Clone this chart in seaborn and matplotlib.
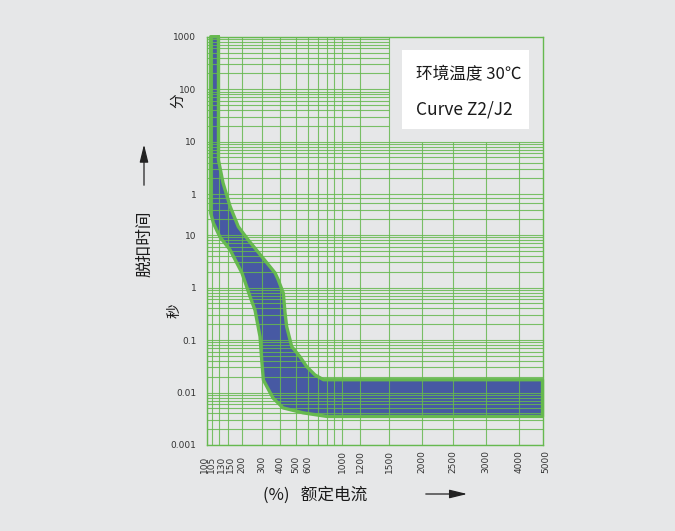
import numpy as np
import pandas as pd
import matplotlib
matplotlib.use("Agg")
import matplotlib.pyplot as plt
import matplotlib.transforms as mtransforms
from matplotlib.patches import Rectangle
from matplotlib.ticker import NullLocator
import seaborn as sns

# x axis: rated current (%), drawn on the paper's own uneven scale
x_ticks = [100, 105, 130, 150, 200, 300, 400, 500, 600, 1000, 1200, 1500,
           2000, 2500, 3000, 4000, 5000]
x_grid = [100, 105, 130, 150, 200, 300, 400, 500, 600, 700, 800, 900,
          1000, 1200, 1500]
x_grid_low = [2000, 2500, 3000, 4000]          # only drawn below 10 min
x_knots = x_grid + x_grid_low + [5000]
x_knot_frac = [0.0, 0.0149, 0.0375, 0.0643, 0.1042, 0.1638, 0.2183, 0.2659,
               0.3008, 0.3323, 0.3574, 0.3800, 0.4029, 0.4565, 0.5429,
               0.6412, 0.7335, 0.8318, 0.9300, 1.0]

# y axis: one log scale in seconds, labelled in seconds below and minutes above
sec_ticks = [0.001, 0.01, 0.1, 1, 10]
min_ticks = [1, 10, 100, 1000]

# tripping band (current %, time s)
upper_I = [127, 127, 138, 156, 186, 229, 300, 370, 389, 419, 429, 439, 471,
           532, 591, 667, 760, 5000]
upper_t = [60000, 268, 98, 35, 14.4, 8.0, 3.9, 1.9, 1.4, 0.78, 0.33, 0.18,
           0.075, 0.048, 0.031, 0.0216, 0.0175, 0.0175]
lower_I = [104, 104, 110, 131, 156, 201, 237, 262, 290, 300, 308, 358, 417,
           558, 804, 5000]
lower_t = [60000, 26, 17, 9.3, 5.2, 1.9, 0.67, 0.37, 0.116, 0.042, 0.0173,
           0.0079, 0.0051, 0.0041, 0.0035, 0.0035]

bg = "#e6e7e8"
green = "#66b94f"
blue = "#4759a3"
cjk = ["Noto Sans CJK SC", "DejaVu Sans"]

sns.set_theme(style="white", rc={"axes.facecolor": bg, "figure.facecolor": bg})
plt.rcParams["font.family"] = ["DejaVu Sans", "Noto Sans CJK SC"]

knot_log = np.log10(x_knots)


def fwd(x):
    x = np.clip(np.asarray(x, dtype=float), 1e-9, None)
    return np.interp(np.log10(x), knot_log, x_knot_frac)


def inv(p):
    return 10 ** np.interp(np.asarray(p, dtype=float), x_knot_frac, knot_log)


fig = plt.figure(figsize=(6.75, 5.31), dpi=100)
ax = fig.add_axes([206.7 / 675, 1 - 445 / 531, 335.8 / 675, 408.3 / 531])
ax.set_xscale("function", functions=(fwd, inv))
ax.set_yscale("log")

# band
band = pd.DataFrame({
    "I": upper_I + lower_I[::-1] + [upper_I[0]],
    "t": upper_t + lower_t[::-1] + [upper_t[0]],
})
ax.fill(band["I"], band["t"], color=blue, lw=0, zorder=2)
sns.lineplot(data=band, x="I", y="t", sort=False, estimator=None, ax=ax,
             color=green, lw=2.4, zorder=2.5, clip_on=False)
ax.set_xlabel("")
ax.set_ylabel("")

# grid
sec_grid = [m * 10.0 ** e for e in range(-3, 1) for m in range(1, 10)]
sec_grid += [10, 20, 30, 40, 50]
min_grid = [m * 10 ** e for e in range(0, 3) for m in range(1, 10)] + [1000]
for t in sec_grid + [m * 60 for m in min_grid]:
    ax.hlines(t, 100, 5000 if t <= 600 else 1500, color=green, lw=0.8,
              alpha=0.85, zorder=3)
ax.vlines(x_grid, 0.001, 60000, color=green, lw=0.8, alpha=0.85, zorder=3)
ax.vlines(x_grid_low, 0.001, 600, color=green, lw=0.8, alpha=0.85, zorder=3)

ax.set_xlim(100, 5000)
ax.set_ylim(0.001, 60000)
for s in ax.spines.values():
    s.set_color(green)
    s.set_linewidth(1)

ax.set_xticks([])
ax.xaxis.set_minor_locator(NullLocator())
ax.set_yticks(sec_ticks + [m * 60 for m in min_ticks],
              [f"{v:g}" for v in sec_ticks] + [str(m) for m in min_ticks])
ax.yaxis.set_minor_locator(NullLocator())
ax.tick_params(axis="y", length=0, pad=7.5, labelsize=6.5, labelcolor="#333333")

# x tick labels, nudged apart where they crowd
shift = {100: -2.7, 130: 1.7, 150: 1.7, 5000: 3.5}
trans = mtransforms.blended_transform_factory(ax.transData, ax.transAxes)
for v in x_ticks:
    tr = trans + mtransforms.ScaledTranslation(shift.get(v, 0) / 100, 0,
                                               fig.dpi_scale_trans)
    ax.text(v, -28 / 408.3, str(v), transform=tr, rotation=90, ha="center",
            va="bottom", fontsize=6.5, color="#333333")

# legend box
fig.patches.append(Rectangle((402 / 675, 1 - 129.3 / 531), 127 / 675,
                             79.3 / 531, transform=fig.transFigure,
                             facecolor="white", edgecolor="none", zorder=5))
fig.text(416 / 675, 1 - 75 / 531, "环境温度 30℃", family=cjk, fontsize=12,
         va="center", ha="left", color="#1a1a1a", zorder=6)
fig.text(416 / 675, 1 - 110 / 531, "Curve Z2/J2", family=cjk, fontsize=12.5,
         va="center", ha="left", color="#1a1a1a", zorder=6)

# axis titles
fig.text(262.7 / 675, 1 - 495 / 531, "(%)   额定电流", family=cjk, fontsize=12,
         ha="left", va="center", color="#1a1a1a")
ax.annotate("", xy=(470 / 675, 1 - 494 / 531), xytext=(423 / 675, 1 - 494 / 531),
            xycoords="figure fraction", textcoords="figure fraction",
            arrowprops=dict(arrowstyle="-|>,head_length=0.9,head_width=0.22",
                            color="#222222", lw=0.9, mutation_scale=12))
fig.text(145 / 675, 1 - 244 / 531, "脱扣时间", family=cjk, fontsize=12,
         rotation=90, ha="center", va="center", color="#1a1a1a")
ax.annotate("", xy=(144 / 675, 1 - 141.7 / 531), xytext=(144 / 675, 1 - 188 / 531),
            xycoords="figure fraction", textcoords="figure fraction",
            arrowprops=dict(arrowstyle="-|>,head_length=0.9,head_width=0.22",
                            color="#222222", lw=0.9, mutation_scale=12))
fig.text(178 / 675, 1 - 101 / 531, "分", family=cjk, fontsize=10.5, rotation=90,
         ha="center", va="center", color="#1a1a1a")
fig.text(175 / 675, 1 - 311 / 531, "秒", family=cjk, fontsize=10.5, rotation=90,
         ha="center", va="center", color="#1a1a1a")

fig.savefig("out.png", dpi=100, facecolor=bg)
